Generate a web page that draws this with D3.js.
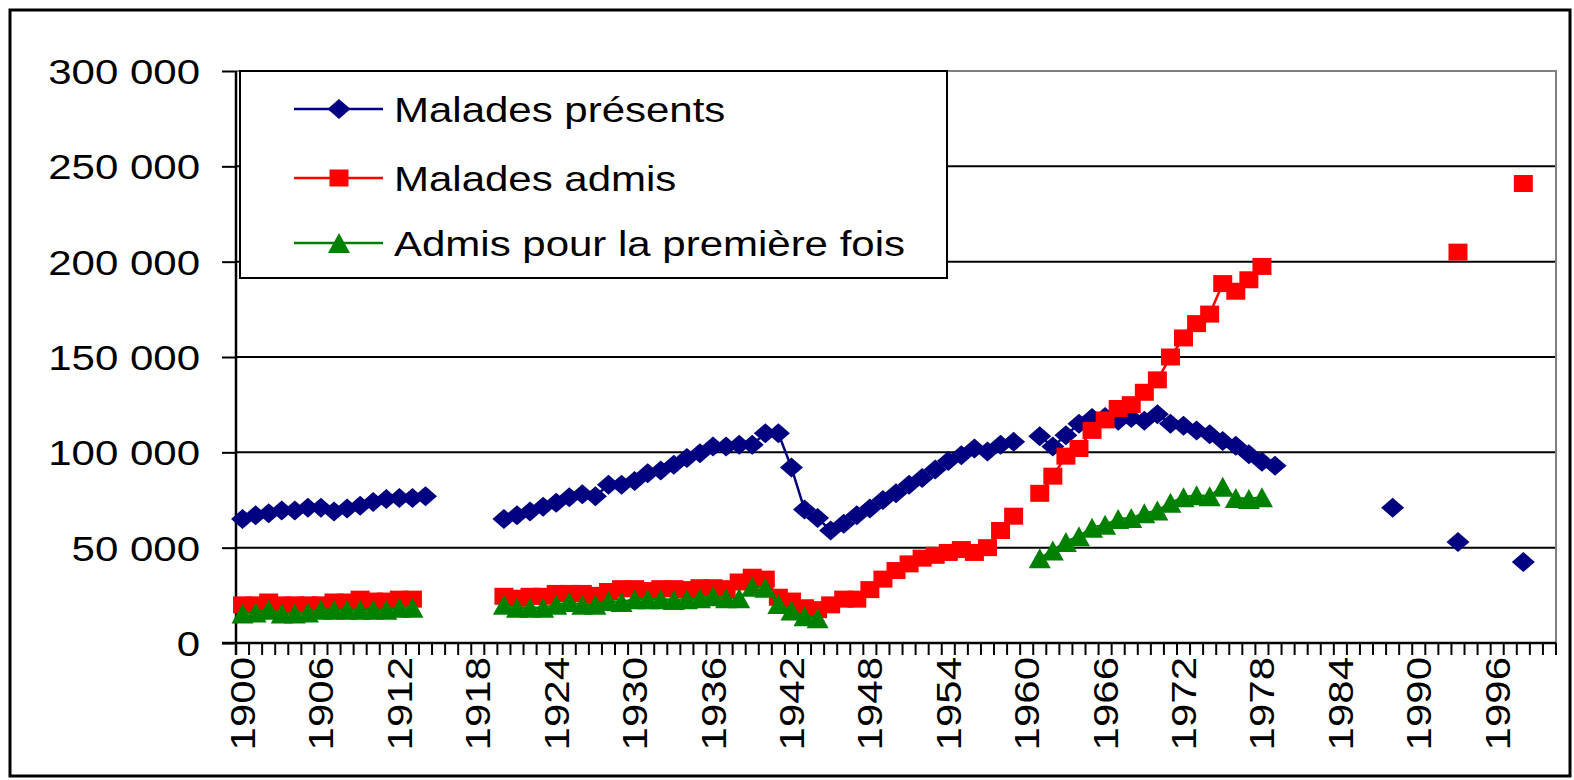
<!DOCTYPE html>
<html>
<head>
<meta charset="utf-8">
<script src="https://cdn.jsdelivr.net/npm/d3@7"></script>
<style>
  body { margin: 0; background: #fff; }
  svg text { font-family: "Liberation Sans", Arial, sans-serif; font-size: 35px; fill: #000; }
</style>
</head>
<body>
<svg id="chart"></svg>
<script>
// categories: one per year, 1900 .. 2000
const firstYear = 1900;
const lastYear = 2000;
const labelYears = [1900, 1906, 1912, 1918, 1924, 1930, 1936, 1942, 1948, 1954, 1960, 1966, 1972, 1978, 1984, 1990, 1996];
const yTicks = [0, 50000, 100000, 150000, 200000, 250000, 300000];

const seriesNames = ["Malades présents", "Malades admis", "Admis pour la première fois"];

// Malades présents
const presentYears = [1900, 1901, 1902, 1903, 1904, 1905, 1906, 1907, 1908, 1909, 1910, 1911, 1912, 1913, 1914,
  1920, 1921, 1922, 1923, 1924, 1925, 1926, 1927, 1928, 1929, 1930, 1931, 1932, 1933, 1934, 1935, 1936, 1937, 1938, 1939,
  1940, 1941, 1942, 1943, 1944, 1945, 1946, 1947, 1948, 1949, 1950, 1951, 1952, 1953, 1954, 1955, 1956, 1957, 1958, 1959,
  1961, 1962, 1963, 1964, 1965, 1966, 1967, 1968, 1969, 1970, 1971, 1972, 1973, 1974, 1975, 1976, 1977, 1978, 1979,
  1988, 1993, 1998];
const presentValues = [65000, 67000, 68000, 69500, 69500, 71000, 71000, 69000, 70500, 72000, 74000, 75500, 76000, 76000, 77000,
  65000, 67000, 69000, 71500, 73500, 76500, 78000, 77000, 83000, 83000, 85000, 89000, 90500, 93500, 97000, 99500, 103000, 103000, 104000, 104000,
  110000, 110000, 92000, 70000, 65500, 59000, 62500, 67000, 70500, 75000, 78500, 83000, 86500, 91000, 95500, 98500, 102000, 100500, 104000, 105500,
  108500, 103000, 109000, 115000, 118000, 118500, 116500, 118000, 116500, 120000, 115000, 114000, 111500, 109500, 106000, 103500, 99000, 95000, 93000,
  71000, 53000, 42500];

// Malades admis
const admisYears = [1900, 1901, 1902, 1903, 1904, 1905, 1906, 1907, 1908, 1909, 1910, 1911, 1912, 1913,
  1920, 1921, 1922, 1923, 1924, 1925, 1926, 1927, 1928, 1929, 1930, 1931, 1932, 1933, 1934, 1935, 1936, 1937, 1938, 1939,
  1940, 1941, 1942, 1943, 1944, 1945, 1946, 1947, 1948, 1949, 1950, 1951, 1952, 1953, 1954, 1955, 1956, 1957, 1958, 1959,
  1961, 1962, 1963, 1964, 1965, 1966, 1967, 1968, 1969, 1970, 1971, 1972, 1973, 1974, 1975, 1976, 1977, 1978,
  1993, 1998];
const admisValues = [20000, 20000, 21500, 20000, 20000, 20000, 20000, 21500, 21500, 23000, 22000, 22000, 23000, 23000,
  24500, 23500, 24500, 24500, 26000, 26000, 26000, 25000, 27000, 28500, 28500, 27500, 28500, 28500, 28000, 29000, 29000, 28500, 32000, 34500,
  33500, 24000, 22000, 18500, 17500, 20000, 23000, 23000, 28000, 33500, 38000, 41500, 44500, 46000, 47500, 49000, 47500, 50000, 59000, 66500,
  78500, 87500, 98000, 102000, 111500, 117000, 123000, 125000, 131500, 138000, 150000, 160000, 167500, 172500, 188500, 184500, 190500, 197500,
  205000, 241000];

// Admis pour la première fois
const premiereYears = [1900, 1901, 1902, 1903, 1904, 1905, 1906, 1907, 1908, 1909, 1910, 1911, 1912, 1913,
  1920, 1921, 1922, 1923, 1924, 1925, 1926, 1927, 1928, 1929, 1930, 1931, 1932, 1933, 1934, 1935, 1936, 1937, 1938, 1939,
  1940, 1941, 1942, 1943, 1944,
  1961, 1962, 1963, 1964, 1965, 1966, 1967, 1968, 1969, 1970, 1971, 1972, 1973, 1974, 1975, 1976, 1977, 1978];
const premiereValues = [15500, 16000, 17500, 15500, 15500, 16000, 17500, 17500, 17500, 17500, 17500, 17500, 18500, 18500,
  20000, 18500, 18500, 18500, 20000, 21500, 20000, 20000, 22000, 21500, 23000, 23000, 23000, 22500, 23000, 23500, 24500, 23500, 23500, 29500,
  29000, 20500, 17000, 14000, 13000,
  44500, 48500, 53000, 56000, 60500, 62000, 65000, 65500, 68000, 69500, 73500, 76500, 77500, 77000, 82000, 76000, 75500, 76500];

const colors = ["#000080", "#ff0000", "#008000"];
const markers = ["diamond", "square", "triangle"];

const width = 1574, height = 780;
const margin = { top: 71, right: 18, bottom: 137, left: 236 };
const stretch = 1.2;   // the original text is drawn a bit wider than normal

const svg = d3.select("#chart").attr("width", width).attr("height", height);

// outer frame of the chart
svg.append("rect")
  .attr("x", 10).attr("y", 10)
  .attr("width", 1560).attr("height", 766)
  .attr("fill", "none").attr("stroke", "#000").attr("stroke-width", 3);

const categories = d3.range(firstYear, lastYear + 1);

const x = d3.scaleBand()
  .domain(categories)
  .range([margin.left, width - margin.right]);

const y = d3.scaleLinear()
  .domain([0, 300000])
  .range([height - margin.bottom + 0, margin.top]);

const plotRight = width - margin.right;
const plotBottom = y(0);

// gridlines
svg.append("g")
  .selectAll("line")
  .data(yTicks.filter(d => d > 0 && d < 300000))
  .join("line")
    .attr("x1", margin.left).attr("x2", plotRight)
    .attr("y1", d => y(d)).attr("y2", d => y(d))
    .attr("stroke", "#000").attr("stroke-width", 2);

// plot area border (top and right are grey)
svg.append("path")
  .attr("d", `M${margin.left},${y(300000)}H${plotRight}V${plotBottom}`)
  .attr("fill", "none").attr("stroke", "#808080").attr("stroke-width", 2);

// y axis
const fmt = d3.formatLocale({ decimal: ",", thousands: " ", grouping: [3], currency: ["", ""] }).format(",");
const yAxis = d3.axisLeft(y).tickValues(yTicks).tickSize(14).tickFormat(fmt);
const yG = svg.append("g").attr("transform", `translate(${margin.left},0)`).call(yAxis);
yG.select(".domain").remove();
yG.selectAll(".tick line").attr("stroke", "#000").attr("stroke-width", 2);
yG.selectAll(".tick text")
  .attr("x", null).attr("dy", null)
  .attr("text-anchor", "end")
  .attr("transform", `translate(-36,12.5) scale(${stretch},1)`)
  .style("font-size", "35px").style("font-family", null);
svg.append("line")
  .attr("x1", margin.left).attr("x2", margin.left)
  .attr("y1", y(300000)).attr("y2", plotBottom + 12)
  .attr("stroke", "#000").attr("stroke-width", 2.5);

// x axis: tick marks at every category boundary, labels every 6 years
svg.append("g")
  .selectAll("line")
  .data(categories.concat(["end"]))
  .join("line")
    .attr("x1", d => d === "end" ? plotRight : x(d))
    .attr("x2", d => d === "end" ? plotRight : x(d))
    .attr("y1", plotBottom).attr("y2", plotBottom + 12)
    .attr("stroke", "#000").attr("stroke-width", 2);

const xAxis = d3.axisBottom(x).tickValues(labelYears).tickSize(0);
const xG = svg.append("g").attr("transform", `translate(0,${plotBottom})`).call(xAxis);
xG.select(".domain").remove();
xG.selectAll(".tick text")
  .attr("y", null).attr("dy", null)
  .attr("text-anchor", "end")
  .attr("transform", `translate(12.5,14) rotate(-90) scale(${stretch},1)`)
  .style("font-size", "35px").style("font-family", null);
svg.append("line")
  .attr("x1", margin.left - 14).attr("x2", plotRight)
  .attr("y1", plotBottom).attr("y2", plotBottom)
  .attr("stroke", "#000").attr("stroke-width", 2.5);

// marker shapes
function markerPath(kind) {
  if (kind === "diamond") return "M0,-10L11.5,0L0,10L-11.5,0Z";
  if (kind === "square") return "M-9.5,-8.5H9.5V8.5H-9.5Z";
  return "M0,-10L11,10H-11Z";
}

const seriesData = [
  presentYears.map((yr, i) => ({ year: yr, value: presentValues[i] })),
  admisYears.map((yr, i) => ({ year: yr, value: admisValues[i] })),
  premiereYears.map((yr, i) => ({ year: yr, value: premiereValues[i] }))
];

const cx = d => x(d.year) + x.bandwidth() / 2;

seriesData.forEach((data, s) => {
  // full list of categories so that missing years break the line
  const byYear = new Map(data.map(d => [d.year, d.value]));
  const full = categories.map(yr => ({ year: yr, value: byYear.has(yr) ? byYear.get(yr) : null }));

  const line = d3.line()
    .defined(d => d.value !== null)
    .x(cx)
    .y(d => y(d.value));

  svg.append("path")
    .datum(full)
    .attr("d", line)
    .attr("fill", "none")
    .attr("stroke", colors[s])
    .attr("stroke-width", 2.5);

  svg.append("g")
    .selectAll("path")
    .data(data)
    .join("path")
      .attr("d", markerPath(markers[s]))
      .attr("transform", d => `translate(${cx(d)},${y(d.value)})`)
      .attr("fill", colors[s]);
});

// legend
const legend = svg.append("g");
legend.append("rect")
  .attr("x", 240).attr("y", 71)
  .attr("width", 707).attr("height", 207)
  .attr("fill", "#fff").attr("stroke", "#000").attr("stroke-width", 2);

const legendY = [109, 178, 243];
seriesNames.forEach((name, s) => {
  const ly = legendY[s];
  legend.append("line")
    .attr("x1", 294).attr("x2", 383)
    .attr("y1", ly).attr("y2", ly)
    .attr("stroke", colors[s]).attr("stroke-width", 2.5);
  legend.append("path")
    .attr("d", markerPath(markers[s]))
    .attr("transform", `translate(339,${ly})`)
    .attr("fill", colors[s]);
  legend.append("text")
    .attr("transform", `translate(394,${ly + 12.5}) scale(${stretch},1)`)
    .text(name);
});
</script>
</body>
</html>
